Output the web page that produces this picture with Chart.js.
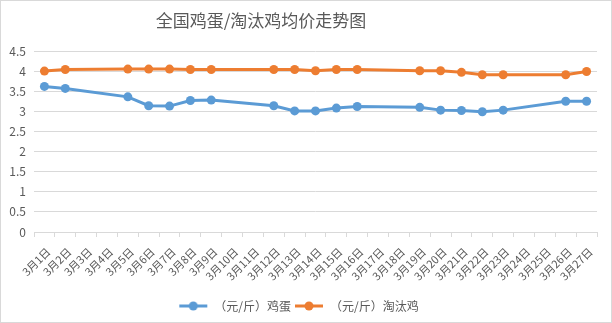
<!DOCTYPE html>
<html><head><meta charset="utf-8">
<script src="https://cdn.jsdelivr.net/npm/chart.js@4/dist/chart.umd.min.js"></script>
<style>html,body{margin:0;padding:0;background:#fff}#w{width:612px;height:323px}</style>
</head><body><div id="w"><canvas id="c" width="612" height="323"></canvas></div>
<script>
const categories = ['3月1日','3月2日','3月3日','3月4日','3月5日','3月6日','3月7日','3月8日','3月9日','3月10日','3月11日','3月12日','3月13日','3月14日','3月15日','3月16日','3月17日','3月18日','3月19日','3月20日','3月21日','3月22日','3月23日','3月24日','3月25日','3月26日','3月27日'];
const eggPrice = [3.62,3.57,null,null,3.36,3.14,3.13,3.27,3.28,null,null,3.14,3.01,3.01,3.08,3.12,null,null,3.10,3.03,3.02,2.99,3.03,null,null,3.25,3.25];
const henPrice = [4.00,4.04,null,null,4.05,4.05,4.05,4.04,4.04,null,null,4.04,4.04,4.01,4.04,4.04,null,null,4.01,4.01,3.97,3.91,3.91,null,null,3.91,3.99];
const seriesNames = ['（元/斤）鸡蛋','（元/斤）淘汰鸡'];
const yTicks = [0,0.5,1,1.5,2,2.5,3,3.5,4,4.5];
const titleText = '全国鸡蛋/淘汰鸡均价走势图';

const FONT = '"Noto Sans CJK SC", "Noto Sans", sans-serif';
const colors = ['#5B9BD5','#ED7D31'];

function legendImg(color){
  const cv = document.createElement('canvas');
  cv.width = 30; cv.height = 10;
  const g = cv.getContext('2d');
  g.strokeStyle = color; g.lineWidth = 3;
  g.beginPath(); g.moveTo(1,5); g.lineTo(29,5); g.stroke();
  g.fillStyle = color; g.beginPath(); g.arc(15,5,4.5,0,Math.PI*2); g.fill();
  return cv;
}
const imgs = colors.map(legendImg);

const decorPlugin = {
  id:'decor',
  afterDraw(chart){
    const g = chart.ctx;
    g.save();
    g.font = '17px ' + FONT; g.fillStyle = '#595959';
    g.textAlign = 'center'; g.textBaseline = 'middle';
    g.fillText(titleText, 261, 21);
    g.strokeStyle = '#D9D9D9'; g.lineWidth = 1;
    g.strokeRect(0.5,0.5,chart.width-1,chart.height-1); g.restore();
  }
};

new Chart(document.getElementById('c'), {
  type:'line',
  data:{
    labels: categories,
    datasets:[eggPrice, henPrice].map((d,i)=>({
      label: seriesNames[i], data: d,
      borderColor: colors[i], backgroundColor: colors[i],
      borderWidth: 3, pointRadius: 4.5, pointHoverRadius: 4.5,
      pointBorderWidth: 0, spanGaps: true, tension: 0
    }))
  },
  options:{
    responsive:false, animation:false,
    layout:{padding:{left:0,right:15,top:51,bottom:1}},
    plugins:{
      title:{display:false},
      legend:{position:'bottom',labels:{
        font:{family:FONT,size:12},color:'#595959',usePointStyle:true,pointStyleWidth:30,padding:3,
        generateLabels(chart){
          return chart.data.datasets.map((ds,i)=>({text:ds.label,pointStyle:imgs[i],fillStyle:colors[i],strokeStyle:colors[i],lineWidth:0,datasetIndex:i,hidden:false,fontColor:'#595959'}));
        }
      }},
      tooltip:{enabled:false}
    },
    scales:{
      x:{
        offset:true,
        afterFit(s){s.paddingLeft=0;s.paddingRight=0;s.height=65;},
        grid:{display:true,drawOnChartArea:false,drawTicks:true,tickLength:5,offset:true,color:'#D9D9D9'},
        border:{display:true,color:'#D9D9D9'},
        ticks:{font:{family:FONT,size:11},color:'#595959',maxRotation:45,minRotation:45,autoSkip:false,padding:8,labelOffset:4}
      },
      y:{
        min:0,max:4.5,
        afterFit(s){s.width=34;s.paddingTop=0;},
        afterBuildTicks(axis){axis.ticks = yTicks.map(v=>({value:v}));},
        grid:{color:'#D9D9D9',drawTicks:false},
        border:{display:false},
        ticks:{font:{family:FONT,size:12},color:'#595959',padding:8,callback:v=>String(v)}
      }
    }
  },
  plugins:[decorPlugin]
});
</script></body></html>
